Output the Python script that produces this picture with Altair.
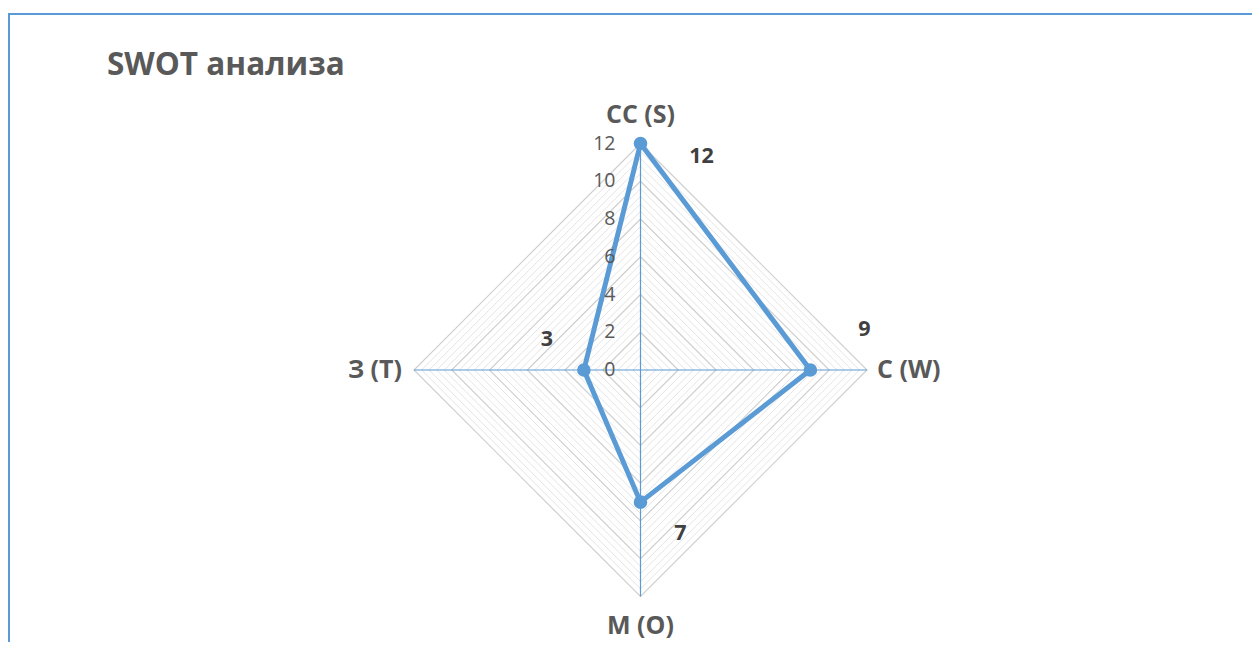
import altair as alt
import pandas as pd
import numpy as np

# ---- data ----
categories = ["СС (S)", "С (W)", "М (O)", "З (T)"]
values = [12, 9, 7, 3]
angles_deg = [0, 90, 180, 270]          # clockwise from top
tick_values = [0, 2, 4, 6, 8, 10, 12]
tick_labels = ["0", "2", "4", "6", "8", "10", "12"]
minor_step = 0.4
r_max = 12
title_text = "SWOT анализа"

BLUE = "#5B9BD5"
FONT = "Open Sans"

# ---- geometry of the plotting frame (page pixels) ----
W, H = 1244, 634
cx, cy = 640.5, 370.0        # centre on the page
k = 18.875                   # pixels per unit
xmin = -(cx - 8) / k
xmax = xmin + W / k
ymax = (cy - 8) / k
ymin = ymax - H / k

xs = alt.Scale(domain=[xmin, xmax], nice=False, zero=False)
ys = alt.Scale(domain=[ymin, ymax], nice=False, zero=False)

rad = np.radians(angles_deg)
sx = np.sin(rad)
sy = np.cos(rad)

# grid rings
ring_rows = []
n_minor = int(round(r_max / minor_step))
for i in range(1, n_minor + 1):
    r = round(i * minor_step, 4)
    major = any(abs(r - t) < 1e-6 for t in tick_values)
    for j in range(5):
        jj = j % 4
        ring_rows.append({"ring": r, "ord": j, "x": r * sx[jj], "y": r * sy[jj],
                          "major": major})
rings = pd.DataFrame(ring_rows)

# spokes
spoke_rows = []
for j in range(4):
    spoke_rows.append({"spoke": j, "ord": 0, "x": 0.0, "y": 0.0})
    spoke_rows.append({"spoke": j, "ord": 1, "x": r_max * sx[j], "y": r_max * sy[j]})
spokes = pd.DataFrame(spoke_rows)

# series
ser = pd.DataFrame({
    "cat": categories,
    "val": values,
    "x": [v * a for v, a in zip(values, sx)],
    "y": [v * b for v, b in zip(values, sy)],
    "ord": list(range(4)),
})
ser_closed = pd.concat([ser, ser.iloc[[0]].assign(ord=4)], ignore_index=True)

ticks = pd.DataFrame({"x": [0.0] * len(tick_values), "y": tick_values, "lab": tick_labels})

ends = pd.DataFrame({"cat": categories, "x": r_max * sx, "y": r_max * sy})

X = lambda: alt.X("x:Q", scale=xs, axis=None)
Y = lambda: alt.Y("y:Q", scale=ys, axis=None)

frame = alt.Chart(pd.DataFrame({"a": [0]})).mark_rect(
    fill="transparent", stroke=BLUE, strokeWidth=2
).encode(x=alt.value(1), x2=alt.value(1500), y=alt.value(6), y2=alt.value(1000))

minor = alt.Chart(rings[~rings.major]).mark_line(color="#E4E4E4", strokeWidth=1).encode(
    x=X(), y=Y(), detail="ring:N", order="ord:Q")
majorl = alt.Chart(rings[rings.major]).mark_line(color="#CFCFCF", strokeWidth=1.2).encode(
    x=X(), y=Y(), detail="ring:N", order="ord:Q")
spk = alt.Chart(spokes).mark_line(color=BLUE, strokeWidth=1.2).encode(
    x=X(), y=Y(), detail="spoke:N", order="ord:Q")

line = alt.Chart(ser_closed).mark_line(color=BLUE, strokeWidth=5, strokeJoin="round").encode(
    x=X(), y=Y(), order="ord:Q")
pts = alt.Chart(ser).mark_point(filled=True, shape="circle", size=185, color=BLUE, opacity=1).encode(
    x=X(), y=Y())

tick_txt = alt.Chart(ticks).mark_text(
    align="right", baseline="middle", dx=-25, font=FONT, fontSize=19.5, color="#595959"
).encode(x=X(), y=Y(), text="lab:N")

# category labels
cat_style = [
    dict(align="center", dx=0, dy=-29),
    dict(align="left", dx=10, dy=0),
    dict(align="center", dx=0, dy=29),
    dict(align="right", dx=-12, dy=0),
]
cat_layers = []
for c, st in zip(categories, cat_style):
    cat_layers.append(
        alt.Chart(ends[ends.cat == c]).mark_text(
            baseline="middle", font=FONT, fontSize=25, fontWeight="bold", color="#595959", **st
        ).encode(x=X(), y=Y(), text="cat:N")
    )

# data labels
lab_style = [
    dict(dx=61, dy=13),
    dict(dx=54, dy=-40),
    dict(dx=40, dy=32),
    dict(dx=-37, dy=-30),
]
lab_layers = []
for c, st in zip(categories, lab_style):
    lab_layers.append(
        alt.Chart(ser[ser.cat == c]).mark_text(
            align="center", baseline="middle", font=FONT, fontSize=21.5, fontWeight="bold",
            color="#404040", **st
        ).encode(x=X(), y=Y(), text="val:Q")
    )

title = alt.Chart(pd.DataFrame({"t": [title_text]})).mark_text(
    align="left", baseline="alphabetic", font=FONT, fontSize=31.5, fontWeight="bold", color="#595959"
).encode(x=alt.value(99), y=alt.value(67), text="t:N")

chart = alt.layer(
    frame, minor, majorl, spk, line, pts, tick_txt, *cat_layers, *lab_layers, title
).properties(
    width=W, height=H, padding=0,
    autosize=alt.AutoSizeParams(type="none"),
    background="white",
).configure_view(stroke=None)

chart.save("out.html", embed_options={"renderer": "svg", "actions": False})
